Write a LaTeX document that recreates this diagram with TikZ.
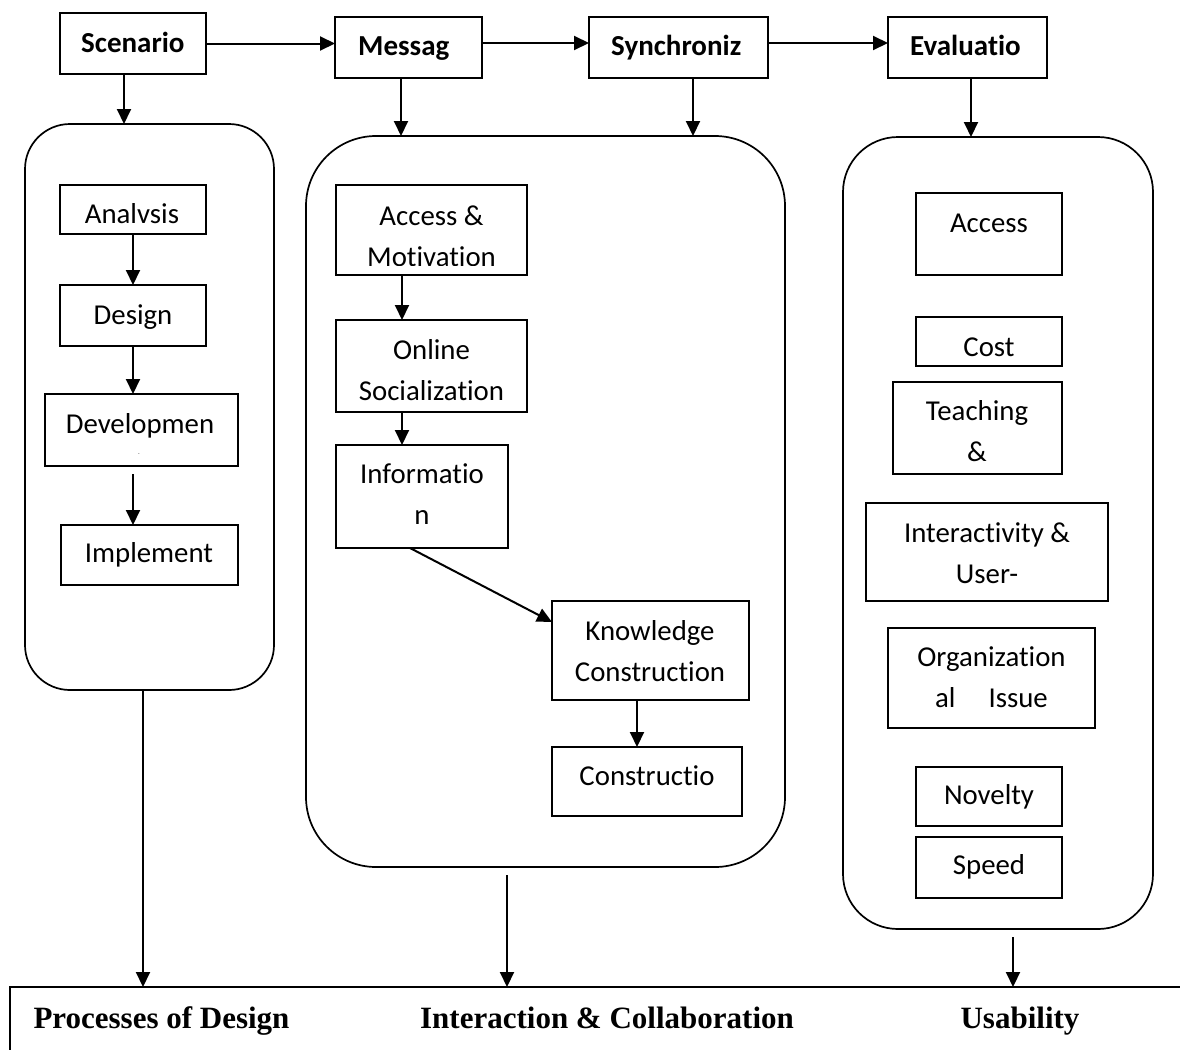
\documentclass[tikz,border=0pt]{standalone}
\usepackage{fontspec}
\setmainfont[Ligatures={NoCommon}]{Carlito}
\newfontfamily\tnrfont{Liberation Serif}
\usetikzlibrary{arrows.meta,fit,calc}
\begin{document}
\begin{tikzpicture}[x=1pt,y=-1pt,
  box/.style={draw,line width=2pt,inner sep=0pt,outer sep=0pt},
  rbox/.style={draw,line width=1.7pt,inner sep=0pt,outer sep=0pt,rounded corners=#1},
  txt/.style={inner sep=0pt,anchor=base,align=center,font=\fontsize{28.8}{41}\selectfont},
  ttl/.style={inner sep=0pt,anchor=base west,font=\bfseries\fontsize{29}{35}\selectfont},
  lab/.style={inner sep=0pt,anchor=base,font=\tnrfont\bfseries\fontsize{31}{37}\selectfont},
  arr/.style={line width=2pt,-{Triangle[length=15pt,width=14pt]}},
]
\fill[white] (0,0) rectangle (1180,1050);
\useasboundingbox (0,0) rectangle (1180,1050);

% helper x positions
\coordinate (xs) at (124,0);
\coordinate (xm) at (401,0);
\coordinate (xy) at (693,0);
\coordinate (xe) at (971,0);
\coordinate (xl) at (133,0);
\coordinate (xa) at (402,0);
\coordinate (xi) at (410,0);
\coordinate (xk) at (637,0);
\coordinate (x1) at (143,0);
\coordinate (x2) at (507,0);
\coordinate (x3) at (1013,0);
\coordinate (bt) at (10,987);

% top row
\node[box,fit={(60,13)(206,74)}] (scen) {};
\node[ttl] (scent) at (81,52) {Scenario};
\node[box,fit={(335,17)(482,78)}] (mess) {};
\node[ttl] (messt) at (358,55) {Messag};
\node[box,fit={(589,17)(768,78)}] (sync) {};
\node[ttl] (synct) at (611,55) {Synchroniz};
\node[box,fit={(888,17)(1047,78)}] (eval) {};
\node[ttl] (evalt) at (910,55) {Evaluatio};

\coordinate (m1) at ($(mess.east)+(0,-4.5)$);
\coordinate (y1) at ($(sync.east)+(0,-4.5)$);
\draw[arr] (scen.east) -- (scen.east -| mess.west);
\draw[arr] (m1) -- (m1 -| sync.west);
\draw[arr] (y1) -- (y1 -| eval.west);

% big rounded boxes
\node[rbox=45pt,fit={(25,124)(274,690)}] (lbig) {};
\node[rbox=70pt,fit={(306,136)(785,867)}] (mbig) {};
\node[rbox=55pt,fit={(843,137)(1153,929)}] (rbig) {};

\draw[arr] (scen.south -| xs) -- (lbig.north -| xs);
\draw[arr] (mess.south -| xm) -- (mbig.north -| xm);
\draw[arr] (sync.south -| xy) -- (mbig.north -| xy);
\draw[arr] (eval.south -| xe) -- (rbig.north -| xe);

% left column
\node[box,fit={(60,185)(206,234)}] (ana) {};
\node[txt] (anat) at (132,223) {Analvsis};
\node[box,fit={(60,285)(206,346)}] (des) {};
\node[txt] (dest) at (133,324) {Design};
\node[box,fit={(45,394)(238,466)}] (dev) {};
\node[txt] (devt) at (140,433) {Developmen};
\node[inner sep=0pt,font=\fontsize{5}{5}\selectfont] (devd) at (139,455) {-};
\node[box,fit={(61,525)(238,585)}] (imp) {};
\node[txt] (impt) at (149,562) {Implement};

\draw[arr] (ana.south -| xl) -- (des.north -| xl);
\draw[arr] (des.south -| xl) -- (dev.north -| xl);
\draw[arr] ($(dev.south -| xl)+(0,8)$) -- (imp.north -| xl);

% middle column
\node[box,fit={(336,185)(527,275)}] (acm) {};
\begin{scope}
\clip (336,185) rectangle (527,265);
\node[txt] (acmt) at (431.5,266.5) {Access \&\\[0pt]Motivation};
\end{scope}
\node[box,fit={(336,320)(527,412)}] (ons) {};
\node[txt] (onst) at (431.5,400) {Online\\Socialization};
\node[box,fit={(336,445)(508,548)}] (inf) {};
\node[txt] (inft) at (422,524) {Informatio\\n};
\node[box,fit={(552,601)(749,700)}] (knw) {};
\node[txt] (knwt) at (650,681) {Knowledge\\Construction};
\node[box,fit={(552,747)(742,816)}] (con) {};
\node[txt] (cont) at (647,785) {Constructio};

\draw[arr] (acm.south -| xa) -- (ons.north -| xa);
\draw[arr] (ons.south -| xa) -- (inf.north -| xa);
\draw[arr] (inf.south -| xi) -- ($(knw.west)+(0,-28.5)$);
\draw[arr] (knw.south -| xk) -- (con.north -| xk);

% right column
\node[box,fit={(916,193)(1062,275)}] (racc) {};
\node[txt] (racct) at (989,232) {Access};
\node[box,fit={(916,317)(1062,366)}] (cost) {};
\node[txt] (costt) at (989,356) {Cost};
\node[box,fit={(893,382)(1062,474)}] (tea) {};
\node[txt] (teat) at (977,461) {Teaching\\\&};
\node[box,fit={(866,503)(1108,601)}] (intr) {};
\node[txt] (intrt) at (987,583) {Interactivity \&\\User-};
\node[box,fit={(888,628)(1095,728)}] (org) {};
\node[txt] (orgt) at (991.5,707) {Organization\\al\hspace{33pt}Issue};
\node[box,fit={(916,767)(1062,826)}] (nov) {};
\node[txt] (novt) at (989,804) {Novelty};
\node[box,fit={(916,837)(1062,898)}] (spd) {};
\node[txt] (spdt) at (989,874) {Speed};

% bottom band
\draw[line width=1.6pt] (1180,987) -- (bt) -- (10,1050);
\draw[arr] (lbig.south -| x1) -- (bt -| x1);
\draw[arr] ($(mbig.south -| x2)+(0,8)$) -- (bt -| x2);
\draw[arr] ($(rbig.south -| x3)+(0,8)$) -- (bt -| x3);

\node[lab] (pd) at (161.5,1028) {Processes of Design};
\node[lab] (ic) at (607,1028) {Interaction \& Collaboration};
\node[lab] (us) at (1020,1028) {Usability};
\end{tikzpicture}
\end{document}
